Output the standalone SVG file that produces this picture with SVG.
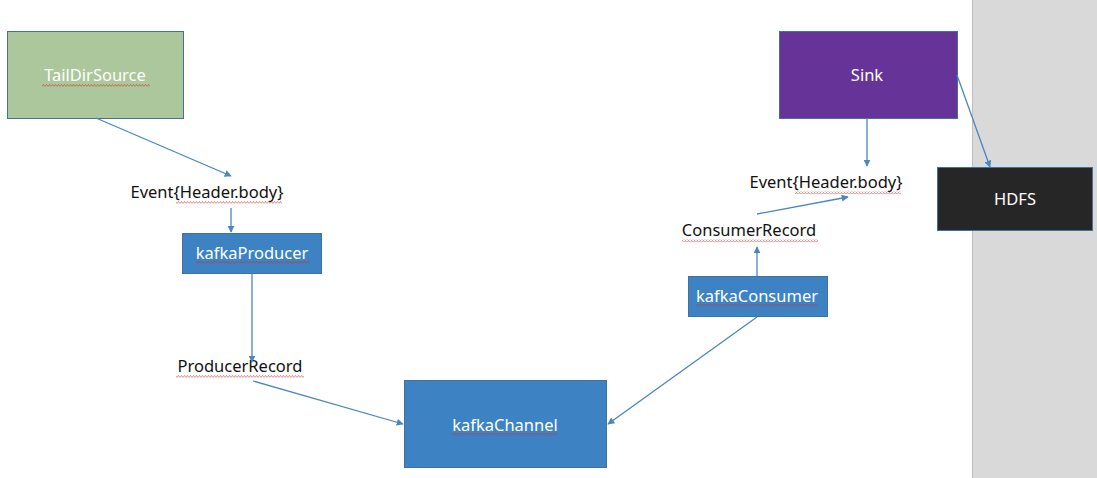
<svg xmlns="http://www.w3.org/2000/svg" width="1097" height="478" viewBox="0 0 1097 478">
<defs>
<marker id="ah" viewBox="0 0 10 10" refX="9" refY="5" markerWidth="7" markerHeight="7" markerUnits="userSpaceOnUse" orient="auto">
<path d="M0,0 L10,5 L0,10 z" fill="#4a86c0"/>
</marker>
<pattern id="wave" width="3" height="3" patternUnits="userSpaceOnUse">
<path d="M0,2.6 L1.5,0.4 L3,2.6" fill="none" stroke="#d03030" stroke-width="0.7"/>
</pattern>
</defs>
<style>
.box{stroke:#41719c;stroke-width:1}
.lbl{font-family:"Noto Sans","Liberation Sans",sans-serif;font-size:16.5px;text-anchor:middle}
.w{fill:#ffffff}
.k{fill:#111111}
.conn line{stroke:#4a86c0;stroke-width:1.3;marker-end:url(#ah)}
.sq{fill:url(#wave);opacity:0.8}
</style>
<rect x="0" y="0" width="1097" height="478" fill="#ffffff"/>
<rect x="972" y="0" width="125" height="478" fill="#d9d9d9"/>
<line x1="972.5" y1="0" x2="972.5" y2="478" stroke="#bfbfbf" stroke-width="1"/>

<g id="TailDirSource">
<rect class="box" x="7.5" y="31.5" width="176" height="87" fill="#abc79b"/>
<text class="lbl w" x="95" y="81">TailDirSource</text>
<rect class="sq" x="42" y="84" width="108" height="3"/>
</g>
<g id="Sink">
<rect class="box" x="779.5" y="31.5" width="178" height="87" fill="#663398"/>
<text class="lbl w" x="867" y="81">Sink</text>
</g>
<g id="HDFS">
<rect class="box" x="937.5" y="167.5" width="155" height="63" fill="#262626"/>
<text class="lbl w" x="1015" y="205">HDFS</text>
</g>
<g id="kafkaProducer">
<rect class="box" x="182.5" y="233.5" width="139" height="40" fill="#3d82c2"/>
<text class="lbl w" x="252" y="259">kafkaProducer</text>
<rect class="sq" x="196" y="261" width="114" height="3"/>
</g>
<g id="kafkaConsumer">
<rect class="box" x="688.5" y="276.5" width="139" height="40" fill="#3d82c2"/>
<text class="lbl w" x="757" y="302">kafkaConsumer</text>
<rect class="sq" x="696" y="304" width="122" height="3"/>
</g>
<g id="kafkaChannel">
<rect class="box" x="404.5" y="380.5" width="202" height="87" fill="#3d82c2"/>
<text class="lbl w" x="505" y="431">kafkaChannel</text>
<rect class="sq" x="452" y="433" width="106" height="3"/>
</g>
<g id="event-left">
<text class="lbl k" x="207" y="198">Event{Header.body}</text>
<rect class="sq" x="176" y="201" width="106" height="3"/>
</g>
<g id="event-right">
<text class="lbl k" x="826" y="188">Event{Header.body}</text>
<rect class="sq" x="795" y="191" width="106" height="3"/>
</g>
<g id="ProducerRecord">
<text class="lbl k" x="240" y="372">ProducerRecord</text>
<rect class="sq" x="176" y="375" width="128" height="3"/>
</g>
<g id="ConsumerRecord">
<text class="lbl k" x="749" y="236">ConsumerRecord</text>
<rect class="sq" x="682" y="239" width="136" height="3"/>
</g>

<g id="connectors" class="conn">
<line x1="96" y1="118" x2="231" y2="176"/>
<line x1="231" y1="208" x2="231" y2="232"/>
<line x1="252" y1="273" x2="252" y2="362"/>
<line x1="253" y1="381" x2="403" y2="424"/>
<line x1="757" y1="317" x2="608" y2="424"/>
<line x1="757" y1="276" x2="757" y2="247"/>
<line x1="757" y1="214" x2="848" y2="197"/>
<line x1="867" y1="118" x2="867" y2="166"/>
<line x1="957" y1="75" x2="990" y2="167"/>
</g>
</svg>
